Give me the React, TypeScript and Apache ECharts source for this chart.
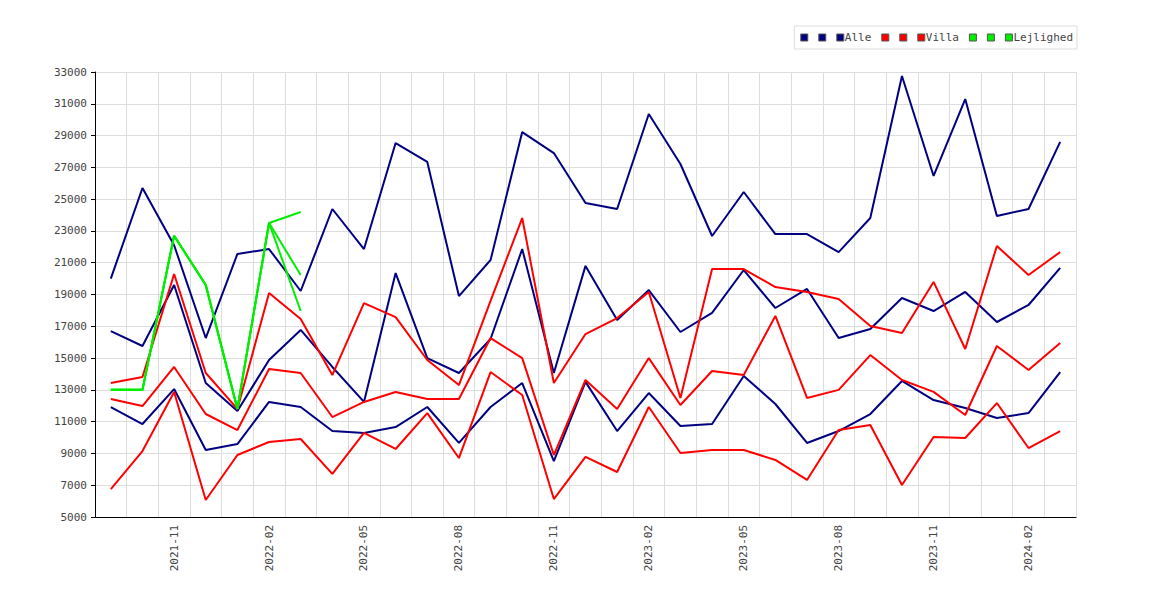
import { useEffect, useRef } from 'react';
import * as echarts from 'echarts';

const months = [
  '2021-09', '2021-10', '2021-11', '2021-12', '2022-01', '2022-02', '2022-03', '2022-04', '2022-05', '2022-06',
  '2022-07', '2022-08', '2022-09', '2022-10', '2022-11', '2022-12', '2023-01', '2023-02', '2023-03', '2023-04',
  '2023-05', '2023-06', '2023-07', '2023-08', '2023-09', '2023-10', '2023-11', '2023-12', '2024-01', '2024-02', '2024-03'
];
const shownLabels = ['2021-11', '2022-02', '2022-05', '2022-08', '2022-11', '2023-02', '2023-05', '2023-08', '2023-11', '2024-02'];

const alleHigh = [20000, 25700, 22100, 16260, 21550, 21860, 19220, 24380, 21860, 28530, 27340, 18900, 21170, 29220, 27900, 24760, 24380, 30360, 27210, 22680, 25450, 22800, 22800, 21670, 23810, 32750, 26460, 31300, 23940, 24380, 28600];
const alleMid = [16700, 15760, 19600, 13430, 11670, 14880, 16770, 14440, 12240, 20350, 15000, 14060, 16200, 21860, 14060, 20800, 17400, 19280, 16640, 17840, 20540, 18150, 19350, 16260, 16830, 18780, 17960, 19160, 17270, 18340, 20670];
const alleLow = [11920, 10850, 13050, 9220, 9590, 12240, 11920, 10410, 10290, 10660, 11920, 9660, 11920, 13430, 8520, 13500, 10410, 12800, 10730, 10850, 13870, 12110, 9660, 10410, 11480, 13560, 12360, 11860, 11230, 11540, 14120];
const villaHigh = [13430, 13810, 20290, 14060, 11800, 19090, 17460, 13930, 18460, 17580, 14880, 13300, 18600, 23810, 13430, 16510, 17520, 19160, 12490, 20600, 20600, 19470, 19160, 18720, 17020, 16580, 19790, 15570, 22050, 20230, 21670];
const villaMid = [12420, 11980, 14440, 11480, 10470, 14310, 14060, 11290, 12240, 12870, 12420, 12420, 16260, 15000, 8900, 13620, 11800, 15000, 12050, 14190, 13930, 17650, 12490, 13000, 15190, 13620, 12870, 11420, 15760, 14250, 15950];
const villaLow = [6760, 9150, 12870, 6070, 8900, 9720, 9910, 7710, 10290, 9280, 11540, 8710, 14120, 12680, 6130, 8780, 7830, 11920, 9030, 9220, 9220, 8590, 7330, 10470, 10790, 7010, 10030, 9970, 12170, 9340, 10410];
const lejHigh = [13000, 13000, 22700, 19600, 11800, 23500, 24190];
const lejMid = [13000, 13000, 22700, 19600, 11800, 23500, 20230];
const lejLow = [13000, 13000, 22700, 19600, 11800, 23500, 17960];

const NAVY = '#000080';
const RED = '#ff0000';
const GREEN = '#00ee00';

const defs: [string, string, number[]][] = [
  ['a1', NAVY, alleLow], ['a2', NAVY, alleMid], ['Alle', NAVY, alleHigh],
  ['v1', RED, villaLow], ['v2', RED, villaMid], ['Villa', RED, villaHigh],
  ['l1', GREEN, lejLow], ['l2', GREEN, lejMid], ['Lejlighed', GREEN, lejHigh]
];

export default function App() {
  const ref = useRef<HTMLDivElement | null>(null);

  useEffect(() => {
    if (!ref.current) return;
    const chart = echarts.init(ref.current, null, { renderer: 'svg' });
    const font = '"DejaVu Sans Mono", monospace';
    chart.setOption({
      animation: false,
      textStyle: { fontFamily: font },
      legend: {
        right: 85,
        top: 18,
        itemWidth: 7,
        itemHeight: 7,
        itemGap: 10,
        icon: 'rect',
        borderColor: '#ddd',
        borderWidth: 1,
        padding: [6, 4, 6, 6],
        textStyle: { fontFamily: font, fontSize: 11, color: '#444', padding: [0, 0, 0, -4] },
        formatter: (n: string) => (n.length > 2 ? n : ''),
        data: defs.map((d) => ({ name: d[0], itemStyle: { color: d[1], borderColor: '#555', borderWidth: 1 } }))
      },
      grid: { left: 87, right: 86, top: 64, bottom: 75 },
      xAxis: {
        type: 'category',
        data: months,
        boundaryGap: true,
        axisLine: { lineStyle: { color: '#000' } },
        axisTick: { show: false },
        splitLine: { show: true, interval: 0, lineStyle: { color: '#ddd' } },
        axisLabel: {
          interval: 0,
          rotate: 90,
          color: '#444',
          fontSize: 11,
          fontFamily: font,
          formatter: (v: string) => (shownLabels.includes(v) ? v : '')
        }
      },
      yAxis: {
        type: 'value',
        min: 5000,
        max: 33000,
        interval: 2000,
        axisLine: { show: true, lineStyle: { color: '#000' } },
        axisTick: { show: true, length: 4 },
        splitLine: { lineStyle: { color: '#ddd' } },
        axisLabel: { color: '#444', fontSize: 11, fontFamily: font, formatter: (v: number) => String(v) }
      },
      series: defs.map((d) => ({
        name: d[0],
        type: 'line',
        data: d[2],
        symbol: 'none',
        color: d[1],
        lineStyle: { color: d[1], width: 2 }
      }))
    });
    return () => chart.dispose();
  }, []);

  return <div ref={ref} style={{ width: 1154, height: 584 }} />;
}
